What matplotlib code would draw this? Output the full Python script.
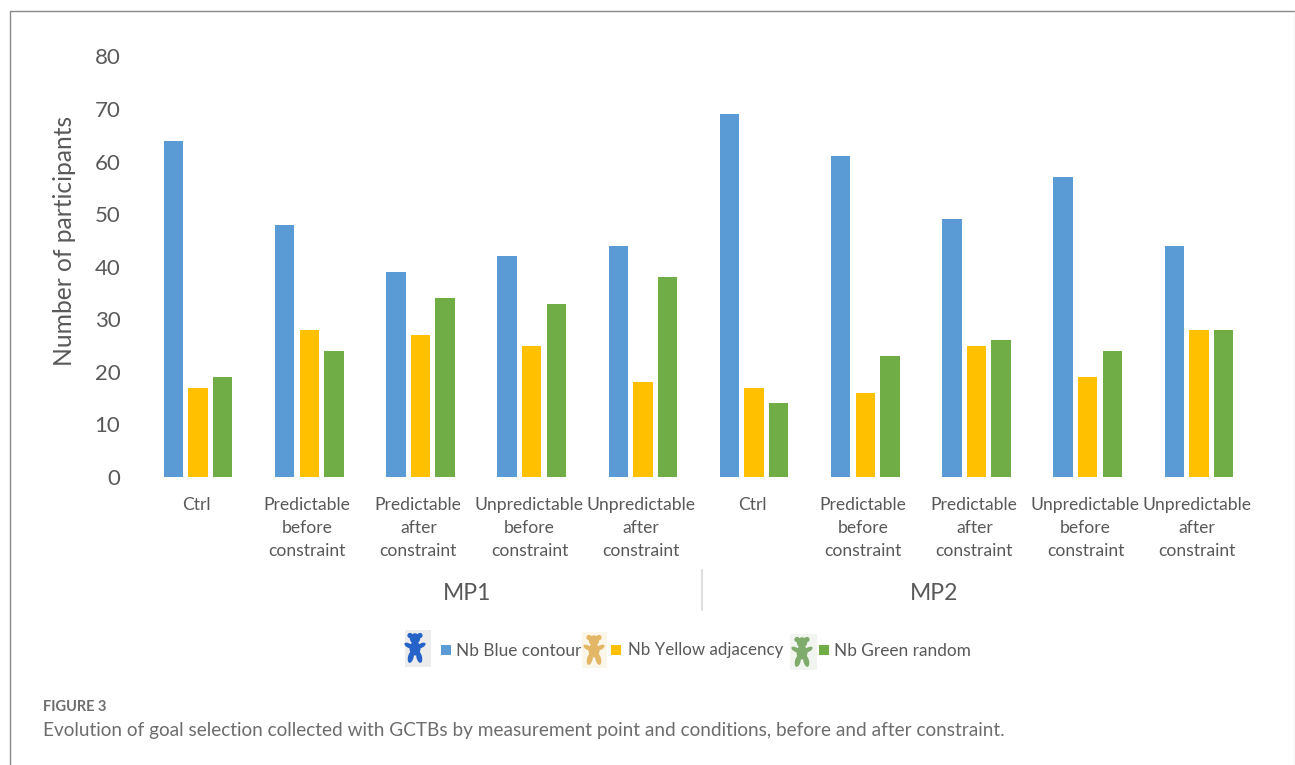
"""Goal selection by measurement point and condition, grouped bar chart."""
import matplotlib
matplotlib.use("Agg")
import matplotlib.pyplot as plt
from matplotlib.patches import Circle, Ellipse, Rectangle
import numpy as np

W, H = 1295, 765

conditions = [
    "Ctrl",
    "Predictable\nbefore\nconstraint",
    "Predictable\nafter\nconstraint",
    "Unpredictable\nbefore\nconstraint",
    "Unpredictable\nafter\nconstraint",
] * 2
blue_contour = [64, 48, 39, 42, 44, 69, 61, 49, 57, 44]
yellow_adjacency = [17, 28, 27, 25, 18, 17, 16, 25, 19, 28]
green_random = [19, 24, 34, 33, 38, 14, 23, 26, 24, 28]
y_ticks = [0, 10, 20, 30, 40, 50, 60, 70, 80]
groups = ["MP1", "MP2"]

BLUE = "#5B9BD5"
YELLOW = "#FFC000"
GREEN = "#70AD47"
TEXT = "#595959"
CAPTION = "#6d6d6d"

plt.rcParams["font.family"] = ["Lato", "DejaVu Sans"]


def draw_bear(ax, cx, cy, color, bg, box):
    """Small teddy icon on a tinted square, in pixel coordinates."""
    ax.add_patch(Rectangle((box[0], box[1]), box[2], box[3], color=bg, lw=0))
    parts = [
        Circle((cx - 5, cy - 12.5), 2.6),
        Circle((cx + 5, cy - 12.5), 2.6),
        Circle((cx, cy - 9.5), 5.2),
        Ellipse((cx, cy + 0.5), 11, 14),
        Ellipse((cx - 6.5, cy - 2.5), 9, 4.4, angle=28),
        Ellipse((cx + 6.5, cy - 2.5), 9, 4.4, angle=-28),
        Ellipse((cx - 4.2, cy + 9), 5.6, 12, angle=14),
        Ellipse((cx + 4.2, cy + 9), 5.6, 12, angle=-14),
    ]
    for p in parts:
        p.set_color(color)
        p.set_linewidth(0)
        ax.add_patch(p)


fig = plt.figure(figsize=(W / 100, H / 100), dpi=100, facecolor="white")

# plot area: one x unit is one condition, 111.2 px wide
ax = fig.add_axes([142.5 / W, 1 - 477 / H, 1112 / W, 420.5 / H])
x = np.arange(len(conditions))
bar_w = 0.175
offset = 0.221
ax.bar(x - offset, blue_contour, bar_w, color=BLUE)
ax.bar(x, yellow_adjacency, bar_w, color=YELLOW)
ax.bar(x + offset, green_random, bar_w, color=GREEN)
ax.set_xlim(-0.5, 9.5)
ax.set_ylim(0, 80)
ax.set_yticks(y_ticks)
ax.set_xticks(x - 0.02)
ax.set_xticklabels(conditions, fontsize=12.6, color=TEXT, linespacing=1.52)
ax.tick_params(axis="x", length=0, pad=14.5)
ax.tick_params(axis="y", length=0, pad=16, labelsize=16, labelcolor=TEXT)
for spine in ax.spines.values():
    spine.set_visible(False)
ax.patch.set_alpha(0)

# overlay in pixel coordinates for the frame, group labels, legend and caption
ov = fig.add_axes([0, 0, 1, 1], zorder=-1)
ov.set_xlim(0, W)
ov.set_ylim(H, 0)
ov.axis("off")

ov.plot([9.5, 9.5, W], [H, 10.5, 10.5], color="#8a8a8a", lw=1.0)
ov.plot([1294.5, 1294.5], [10.5, H], color="#cfcfcf", lw=1.0)
ov.text(64, 241, "Number of participants", rotation=90, ha="center", va="center",
        fontsize=17.7, color=TEXT)

ov.plot([701.5, 701.5], [570, 610], color="#d9d9d9", lw=1.2)
ov.text(467, 593.5, groups[0], ha="center", va="center", fontsize=16.5, color=TEXT)
ov.text(934, 593.5, groups[1], ha="center", va="center", fontsize=16.5, color=TEXT)

# legend entries with their icons
legend = [
    (415, 648, "#2563c9", "#ececec", (405, 630, 26, 37), 441, BLUE, 456, "Nb Blue contour", 12.4),
    (594, 650, "#e3b765", "#fbf6ea", (582, 632, 25, 36), 611, YELLOW, 628, "Nb Yellow adjacency", 12.2),
    (802, 652, "#7fab6c", "#f2f5ef", (790, 634, 27, 36), 819, GREEN, 834, "Nb Green random", 12.4),
]
for bear_x, bear_y, bear_c, bear_bg, box, sq_x, sq_c, txt_x, label, size in legend:
    draw_bear(ov, bear_x, bear_y, bear_c, bear_bg, box)
    ov.add_patch(Rectangle((sq_x, 645), 10, 10, color=sq_c, lw=0))
    ov.text(txt_x, 650.5, label, ha="left", va="center", fontsize=size, color=TEXT)

ov.text(43, 707, "FIGURE 3", ha="left", va="center", fontsize=10.5,
        fontweight="bold", color=CAPTION)
ov.text(43, 730.5,
        "Evolution of goal selection collected with GCTBs by measurement point "
        "and conditions, before and after constraint.",
        ha="left", va="center", fontsize=13.73, color=CAPTION)

fig.savefig("out.png", dpi=100)
